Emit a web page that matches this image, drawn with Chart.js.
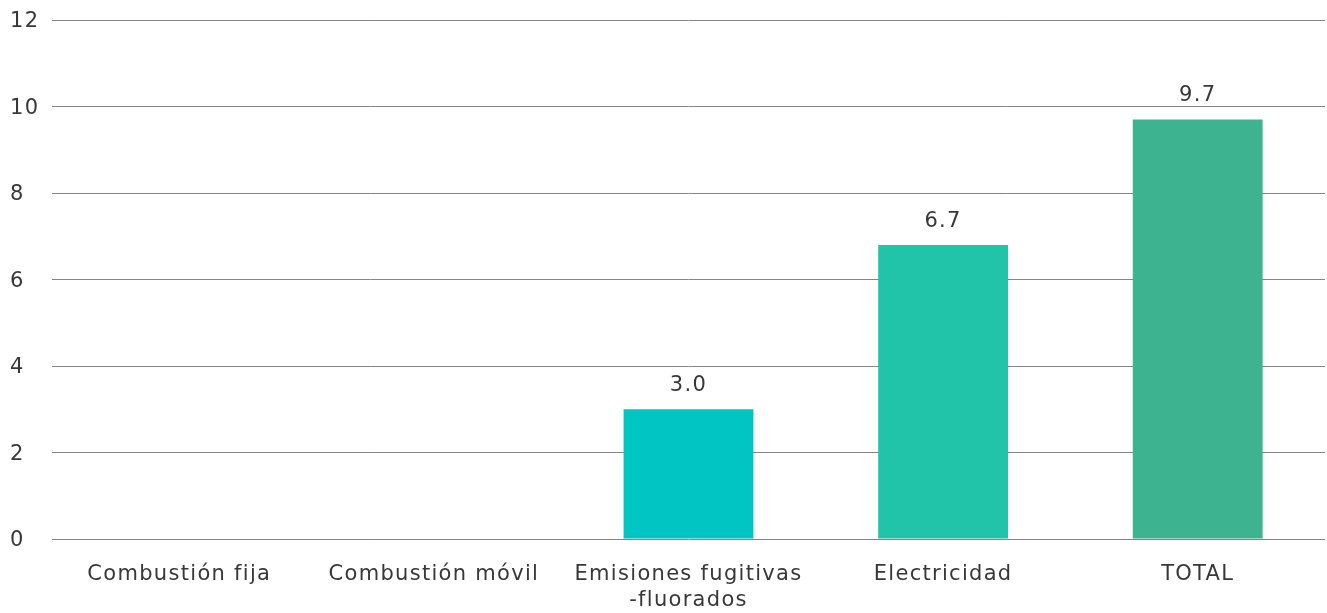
<!DOCTYPE html>
<html>
<head>
<meta charset="utf-8">
<script src="https://cdn.jsdelivr.net/npm/chart.js@4"></script>
<style>
html,body{margin:0;padding:0;background:#fff;}
#wrap{width:1327px;height:613px;}
</style>
</head>
<body>
<div id="wrap"><canvas id="c" width="1327" height="613"></canvas></div>
<script>
const categories = ["Combustión fija", "Combustión móvil", ["Emisiones fugitivas", "-fluorados"], "Electricidad", "TOTAL"];
const values = [0, 0, 3.0, 6.8, 9.7];
const valueLabels = ["", "", "3.0", "6.7", "9.7"];
const barColors = ["#00C5C3", "#00C5C3", "#00C5C3", "#21C4A8", "#3DB38F"];
const yTicks = [0, 2, 4, 6, 8, 10, 12];

const FONT = "'DejaVu Sans', sans-serif";

const spacingPlugin = {
  id: 'spacing',
  beforeDraw(chart) {
    if ('letterSpacing' in chart.ctx) chart.ctx.letterSpacing = '1.3px';
  }
};

const labelPlugin = {
  id: 'valLabels',
  afterDatasetsDraw(chart) {
    const ctx = chart.ctx;
    const meta = chart.getDatasetMeta(0);
    ctx.save();
    ctx.font = "21px " + FONT;
    ctx.fillStyle = "#383838";
    ctx.textAlign = "center";
    ctx.textBaseline = "bottom";
    meta.data.forEach((bar, i) => {
      if (valueLabels[i]) ctx.fillText(valueLabels[i], bar.x, bar.y - 13);
    });
    ctx.restore();
  }
};

new Chart(document.getElementById('c'), {
  type: 'bar',
  data: {
    labels: categories,
    datasets: [{
      data: values,
      backgroundColor: barColors,
      barPercentage: 0.51,
      categoryPercentage: 1.0
    }]
  },
  options: {
    responsive: false,
    animation: false,
    layout: { padding: { top: 20, right: 2, left: 10, bottom: 0 } },
    plugins: { legend: { display: false }, tooltip: { enabled: false } },
    scales: {
      x: {
        afterFit(scale) { scale.height = 74; },
        grid: { display: false },
        border: { display: false },
        ticks: { color: "#383838", font: { family: FONT, size: 21, lineHeight: 1.25 }, maxRotation: 0, padding: 14 }
      },
      y: {
        min: 0, max: 12,
        afterBuildTicks(scale) { scale.ticks = yTicks.map(v => ({ value: v })); },
        afterFit(scale) { scale.width = 42; },
        grid: { color: "#858585", lineWidth: 1, drawTicks: false },
        border: { display: false },
        ticks: { color: "#383838", font: { family: FONT, size: 21 }, crossAlign: 'far', padding: 0, labelOffset: 2 }
      }
    }
  },
  plugins: [spacingPlugin, labelPlugin]
});
</script>
</body>
</html>
